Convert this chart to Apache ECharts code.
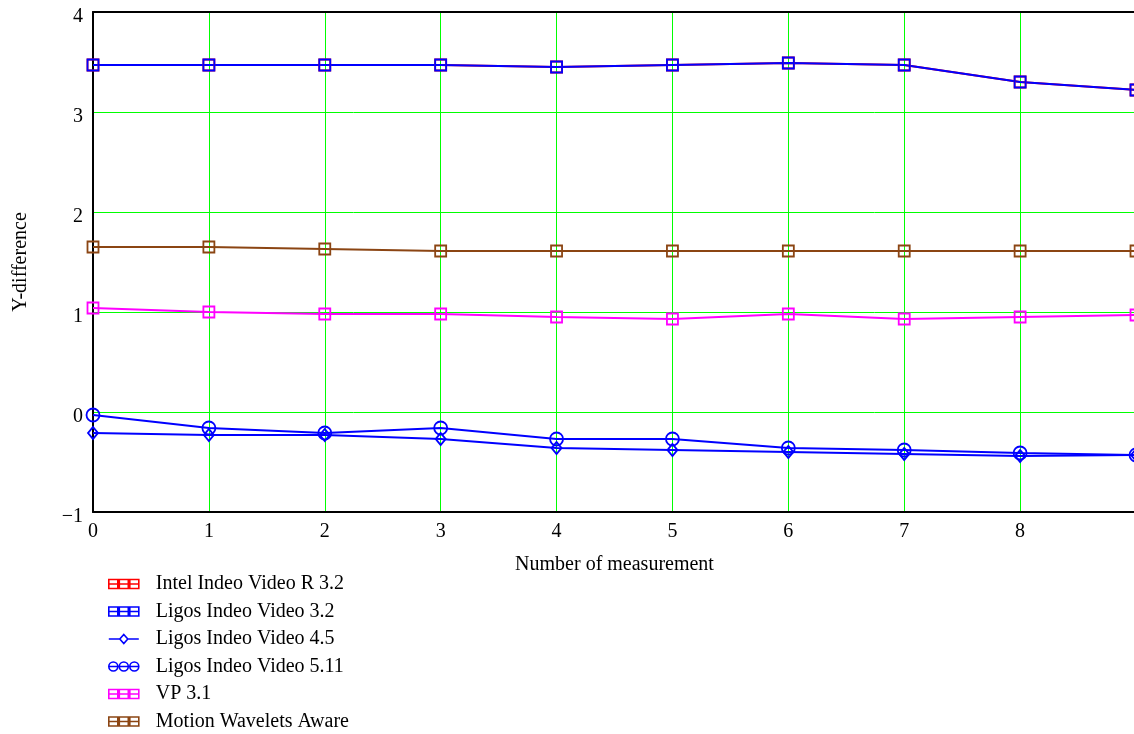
<!DOCTYPE html>
<html>
<head>
<meta charset="utf-8">
<script src="https://cdn.jsdelivr.net/npm/echarts@6/dist/echarts.min.js"></script>
<style>html,body{margin:0;padding:0;background:#fff}#c{width:1134px;height:734px}</style>
</head>
<body>
<div id="c"></div>
<script>
var measurements = [0, 1, 2, 3, 4, 5, 6, 7, 8, 9];
var intelIndeoR32 = [3.47, 3.47, 3.47, 3.47, 3.45, 3.47, 3.49, 3.47, 3.30, 3.22];
var ligosIndeo32 = [3.47, 3.47, 3.47, 3.47, 3.45, 3.47, 3.49, 3.47, 3.30, 3.22];
var ligosIndeo45 = [-0.21, -0.23, -0.23, -0.27, -0.36, -0.38, -0.40, -0.42, -0.44, -0.43];
var ligosIndeo511 = [-0.03, -0.16, -0.21, -0.16, -0.27, -0.27, -0.36, -0.38, -0.41, -0.43];
var vp31 = [1.04, 1.00, 0.98, 0.98, 0.95, 0.93, 0.98, 0.93, 0.95, 0.97];
var motionWavelets = [1.65, 1.65, 1.63, 1.61, 1.61, 1.61, 1.61, 1.61, 1.61, 1.61];
var seriesNames = ['Intel Indeo Video R 3.2', 'Ligos Indeo Video 3.2', 'Ligos Indeo Video 4.5', 'Ligos Indeo Video 5.11', 'VP 3.1', 'Motion Wavelets Aware'];

function pairs(v) { return measurements.map(function (x, i) { return [x, v[i]]; }); }

var SQ = 'path://M0,0H10V10H0Z';
var iconSquares = 'path://M0,0H9V9H0Z M10.5,0H19.5V9H10.5Z M21,0H30V9H21Z M0,4.5H30';
var iconCircles = 'path://M9,4.5A4.5,4.5,0,1,1,0,4.5A4.5,4.5,0,1,1,9,4.5Z M19.5,4.5A4.5,4.5,0,1,1,10.5,4.5A4.5,4.5,0,1,1,19.5,4.5Z M30,4.5A4.5,4.5,0,1,1,21,4.5A4.5,4.5,0,1,1,30,4.5Z M0,4.5H30';
var iconDiamond = 'path://M0,4.5H11 M19,4.5H30 M15,0L19,4.5L15,9L11,4.5Z';
var font = '"Liberation Serif", "Times New Roman", serif';

function mk(name, data, color, symbol, size) {
  return {
    name: name, type: 'line', data: pairs(data),
    symbol: symbol, symbolSize: size, showAllSymbol: true,
    lineStyle: { color: color, width: 2 },
    itemStyle: { color: 'transparent', borderColor: color, borderWidth: 1.8 },
    emphasis: { disabled: true },
    animation: false, clip: true
  };
}

var chart = echarts.init(document.getElementById('c'));
chart.setOption({
  backgroundColor: '#fff',
  animation: false,
  grid: { left: 93, top: 12, right: -2, bottom: 222, containLabel: false, outerBoundsMode: 'none' },
  xAxis: [{
    type: 'value', min: 0, max: 9, interval: 1,
    name: 'Number of measurement', nameLocation: 'middle', nameGap: 43, nameMoveOverlap: false,
    nameTextStyle: { fontFamily: font, fontSize: 20, color: '#000' },
    axisLine: { show: true, onZero: false, lineStyle: { color: '#000', width: 2 } },
    axisTick: { show: false },
    axisLabel: { fontFamily: font, fontSize: 20, color: '#000', margin: 10, showMaxLabel: false },
    splitLine: { show: true, lineStyle: { color: '#00ff00', width: 1 } }
  }, {
    type: 'value', min: 0, max: 9, position: 'top',
    axisLine: { show: true, onZero: false, lineStyle: { color: '#000', width: 2 } },
    axisTick: { show: false }, axisLabel: { show: false }, splitLine: { show: false }
  }],
  yAxis: {
    type: 'value', min: -1, max: 4, interval: 1,
    name: 'Y-difference', nameLocation: 'middle', nameGap: 62, nameRotate: 90, nameMoveOverlap: false,
    nameTextStyle: { fontFamily: font, fontSize: 20, color: '#000' },
    axisLine: { show: true, onZero: false, lineStyle: { color: '#000', width: 2 } },
    axisTick: { show: false },
    axisLabel: { fontFamily: font, fontSize: 20, color: '#000', margin: 10,
      verticalAlign: 'top', lineHeight: 10,
      formatter: function (v) { return String(v).replace('-', '\u2212'); } },
    splitLine: { show: true, lineStyle: { color: '#00ff00', width: 1 } }
  },
  legend: {
    orient: 'vertical', left: 108, top: 574, padding: 0,
    itemWidth: 30, itemHeight: 10, itemGap: 7.5,
    selectedMode: false,
    textStyle: { fontFamily: font, fontSize: 20, color: '#000', lineHeight: 20, padding: [0, 0, 0, 12] },
    itemStyle: { color: 'transparent', borderColor: 'inherit', borderWidth: 1.6 },
    data: [
      { name: seriesNames[0], icon: iconSquares },
      { name: seriesNames[1], icon: iconSquares },
      { name: seriesNames[2], icon: iconDiamond },
      { name: seriesNames[3], icon: iconCircles },
      { name: seriesNames[4], icon: iconSquares },
      { name: seriesNames[5], icon: iconSquares }
    ]
  },
  series: [
    mk(seriesNames[0], intelIndeoR32, '#ff0000', SQ, 11),
    mk(seriesNames[5], motionWavelets, '#8b4513', SQ, 11),
    mk(seriesNames[4], vp31, '#ff00ff', SQ, 11),
    mk(seriesNames[2], ligosIndeo45, '#0000ff', 'diamond', [10, 12]),
    mk(seriesNames[3], ligosIndeo511, '#0000ff', 'circle', 13),
    mk(seriesNames[1], ligosIndeo32, '#0000ff', SQ, 11)
  ]
});
</script>
</body>
</html>
